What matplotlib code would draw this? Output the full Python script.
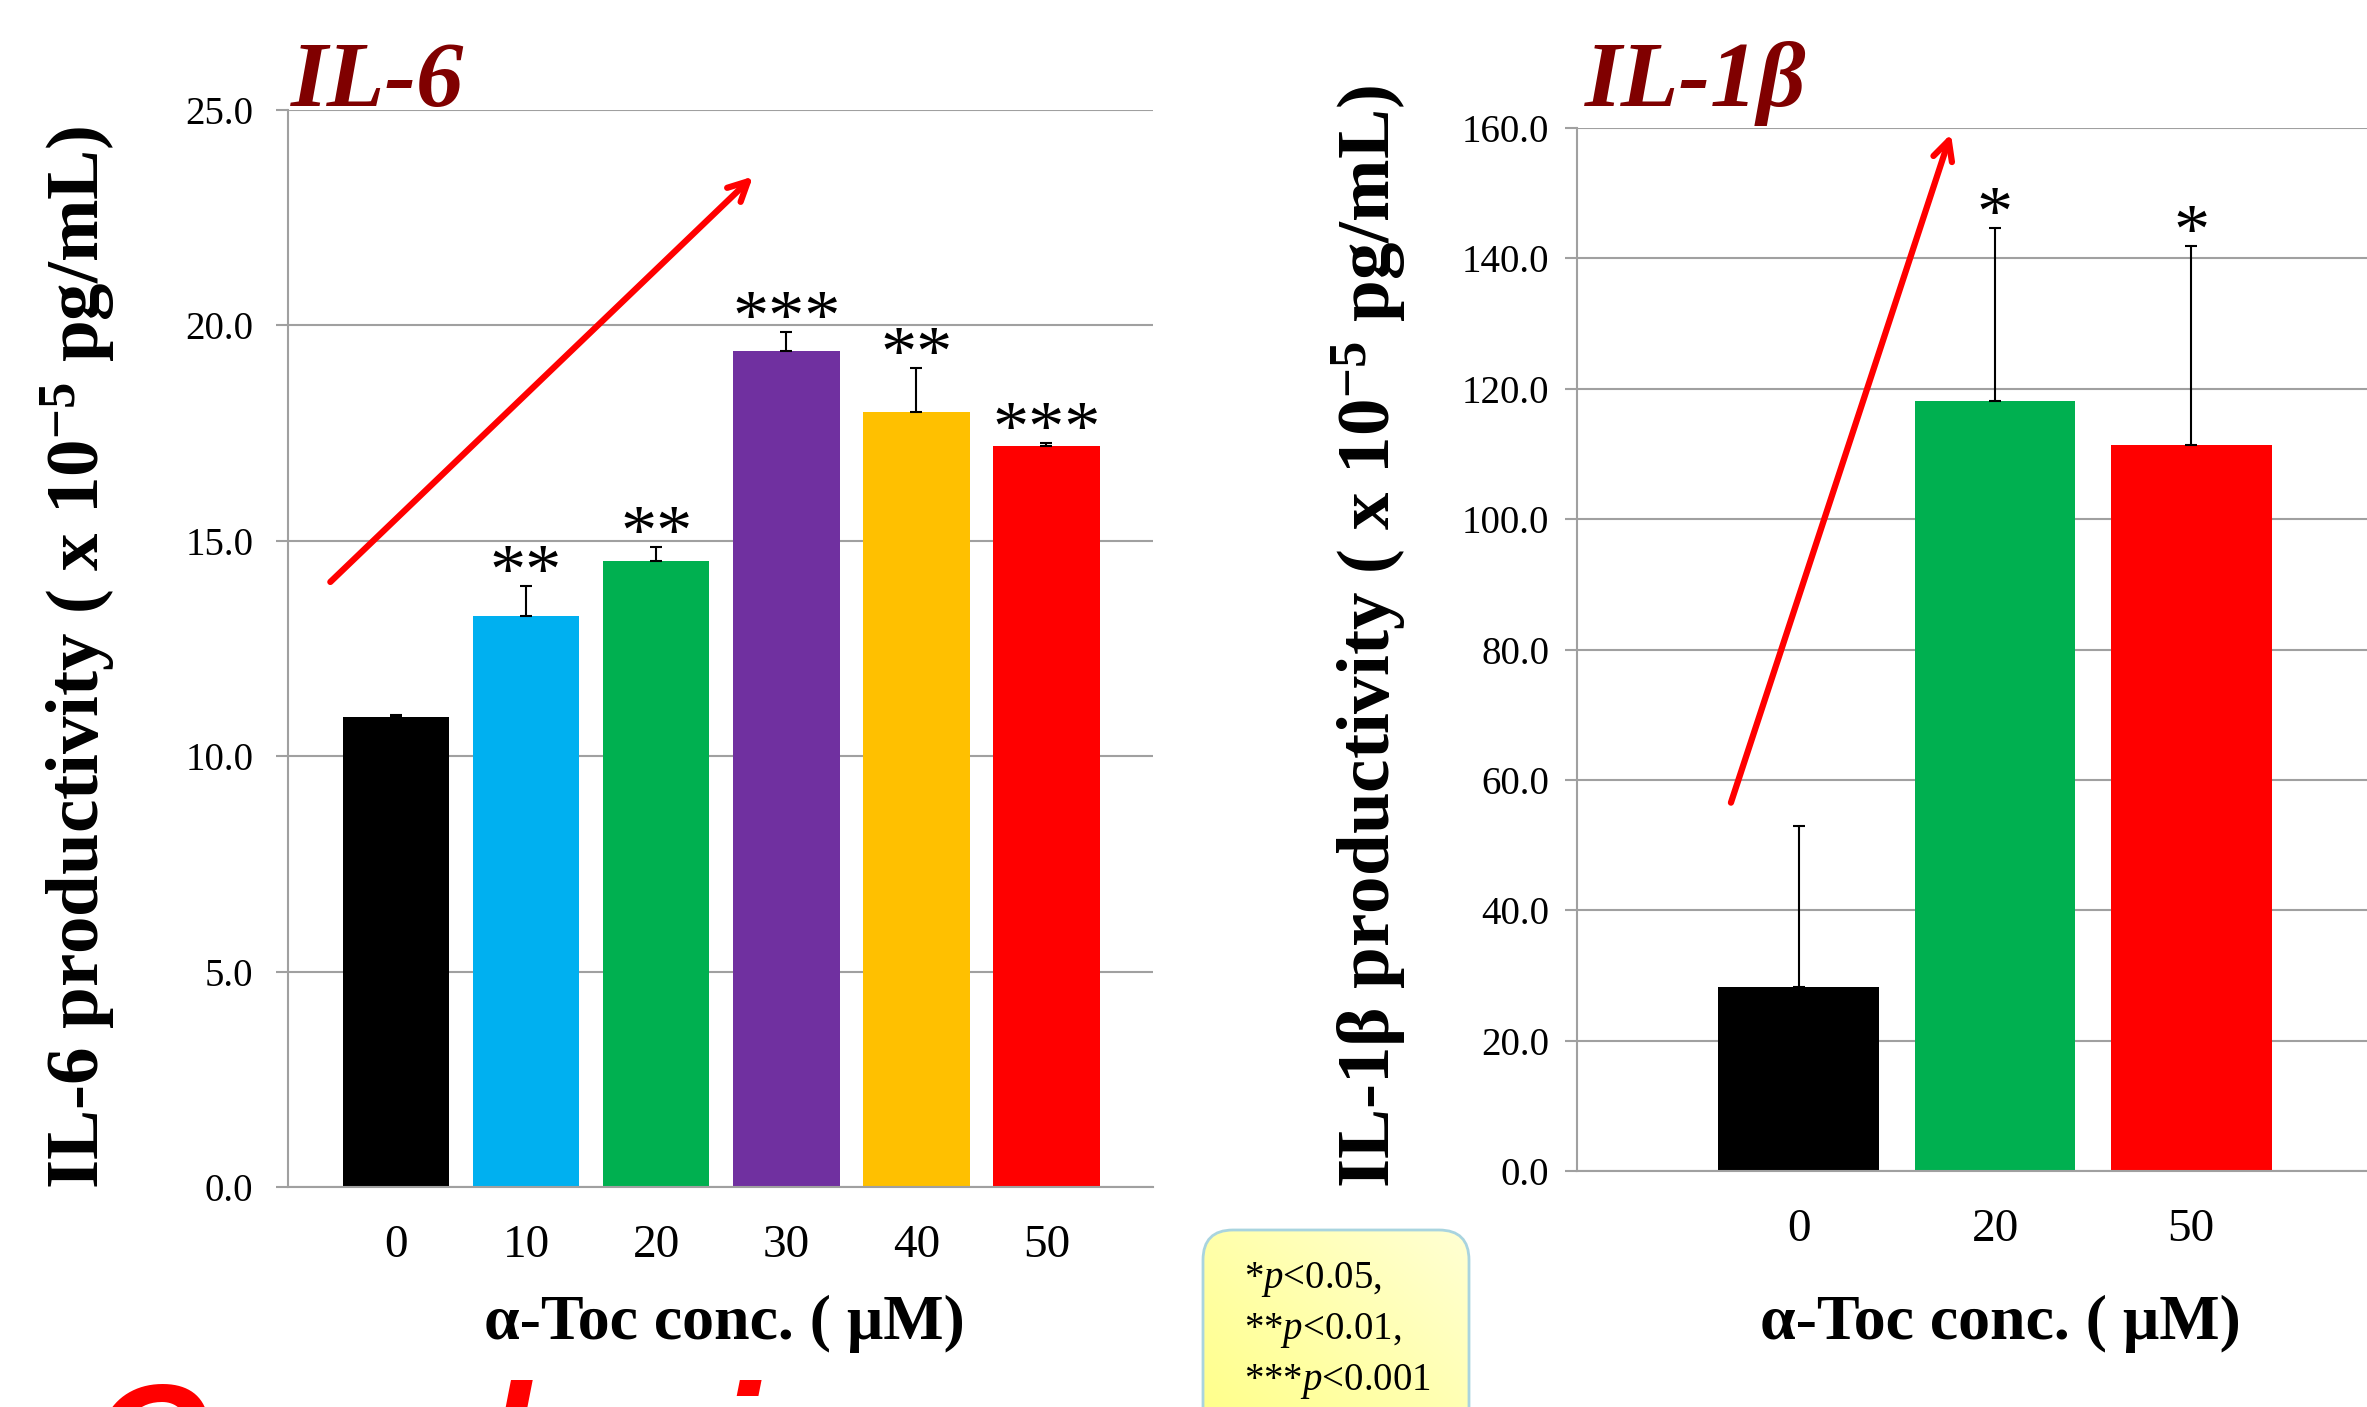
import matplotlib.pyplot as plt
import numpy as np
from matplotlib.patches import FancyBboxPatch

# IL-6 panel
il6_conc = ['0', '10', '20', '30', '40', '50']
il6_mean = [10.9, 13.25, 14.53, 19.4, 18.0, 17.2]
il6_err = [0.05, 0.7, 0.33, 0.45, 1.0, 0.08]
il6_marks = ['', '**', '**', '***', '**', '***']
il6_colors = ['#000000', '#00B0F0', '#00B050', '#7030A0', '#FFC000', '#FF0000']
il6_ticks = [0, 5, 10, 15, 20, 25]

# IL-1beta panel
il1b_conc = ['0', '20', '50']
il1b_mean = [28.2, 118.1, 111.4]
il1b_err = [24.8, 26.6, 30.5]
il1b_marks = ['', '*', '*']
il1b_colors = ['#000000', '#00B050', '#FF0000']
il1b_ticks = [0, 20, 40, 60, 80, 100, 120, 140, 160]

plt.rcParams['font.family'] = 'Liberation Serif'
plt.rcParams['mathtext.fontset'] = 'custom'
plt.rcParams['mathtext.rm'] = 'Liberation Serif'
plt.rcParams['mathtext.it'] = 'Liberation Serif:italic'
plt.rcParams['mathtext.bf'] = 'Liberation Serif:bold'

W, H = 2367, 1407
fig = plt.figure(figsize=(W / 100, H / 100), dpi=100)
grid_color = '#A0A0A0'


def panel(rect, conc, mean, err, marks, colors, ticks, ylabel, lab_y, tick_pad, star_size):
    ax = fig.add_axes(rect)
    x = np.arange(len(conc))
    ax.bar(x, mean, width=0.82, color=colors, zorder=2)
    ax.errorbar(x, mean, yerr=[np.zeros(len(err)), err], fmt='none', ecolor='black',
                elinewidth=1.5, capsize=4, capthick=1.5, zorder=3)
    for i in range(len(conc)):
        if marks[i]:
            ax.annotate(marks[i], xy=(i, mean[i] + err[i]), xytext=(0, -5), textcoords='offset points',
                        ha='center', va='baseline', fontsize=star_size, zorder=4)
    ax.set_ylim(ticks[0], ticks[-1])
    ax.set_yticks(ticks, ['%.1f' % t for t in ticks])
    ax.set_xticks(x, conc)
    ax.yaxis.grid(True, color=grid_color, lw=1.5, zorder=0)
    ax.set_axisbelow(True)
    for s in ['top', 'right']:
        ax.spines[s].set_visible(False)
    ax.spines['left'].set_color(grid_color)
    ax.spines['bottom'].set_color(grid_color)
    ax.spines['left'].set_linewidth(1.5)
    ax.spines['bottom'].set_linewidth(1.5)
    ax.tick_params(axis='y', direction='out', length=9, width=1.5, color=grid_color,
                   labelsize=28, pad=tick_pad)
    ax.tick_params(axis='x', length=0, labelsize=34, pad=27)
    ax.set_ylabel(ylabel, fontsize=54, fontweight='bold')
    ax.yaxis.set_label_coords(lab_y[0], lab_y[1])
    ax.yaxis.label.set_va('center')
    return ax


ax1 = panel([288 / W, 1 - 1187 / H, 865 / W, 1077 / H], il6_conc, il6_mean, il6_err, il6_marks,
            il6_colors, il6_ticks, r'IL-6 productivity ( x 10$^{\mathbf{-5}}$ pg/mL)',
            (-0.243, 0.492), 16, 52)
ax1.set_xlim(-0.83, 5.82)
ax1.set_xlabel('α-Toc conc. ( μM)', fontsize=46, fontweight='bold')
ax1.xaxis.set_label_coords(0.505, -0.127)
ax1.xaxis.label.set_va('center')
ax1.annotate('', xy=(2.76, 23.5), xytext=(-0.52, 14.0), annotation_clip=False,
             arrowprops=dict(arrowstyle='->', color='red', lw=4.5, mutation_scale=35))

ax2 = panel([1577 / W, 1 - 1171 / H, 836 / W, 1043 / H], il1b_conc, il1b_mean, il1b_err, il1b_marks,
            il1b_colors, il1b_ticks, r'IL-1β productivity ( x 10$^{\mathbf{-5}}$ pg/mL)',
            (-0.249, 0.512), 11, 52)
ax2.set_xlim(-1.13, 3.13)
ax2.set_xlabel('α-Toc conc. ( μM)', fontsize=46, fontweight='bold')
ax2.xaxis.set_label_coords(0.506, -0.147)
ax2.xaxis.label.set_va('center')
ax2.annotate('', xy=(0.78, 159.5), xytext=(-0.35, 56.1), annotation_clip=False,
             arrowprops=dict(arrowstyle='->', color='red', lw=4.5, mutation_scale=35))

# panel titles
fig.text(291 / W, 1 - 106 / H, 'IL-6', fontsize=68, fontweight='bold', style='italic',
         color='#800000', va='baseline')
fig.text(1585 / W, 1 - 106 / H, 'IL-1β', fontsize=68, fontweight='bold', style='italic',
         color='#800000', va='baseline')

# yellow significance box with gradient fill
bx0, bx1, by0 = 1196, 1476, 1223
box_w, box_h = bx1 - bx0, H - by0
axb = fig.add_axes([bx0 / W, 0, box_w / W, box_h / H])
axb.set_xlim(0, box_w)
axb.set_ylim(0, box_h)
axb.axis('off')
gx, gy = np.meshgrid(np.linspace(0, 1, 100), np.linspace(0, 1, 100))
grad = (gx + (1 - gy)) / 2
img = axb.imshow(grad, cmap=plt.matplotlib.colors.LinearSegmentedColormap.from_list(
    'yl', ['#FFFF80', '#FFFFD6']), extent=[0, box_w, -60, box_h], origin='upper', aspect='auto')
patch = FancyBboxPatch((7, -60), box_w - 14, box_h - 7 + 60, boxstyle='round,pad=0,rounding_size=30',
                       facecolor='none', edgecolor='#A9D4DF', lw=2)
axb.add_patch(patch)
img.set_clip_path(patch)

sig_lines = [r'*$\mathit{p}$<0.05,', r'**$\mathit{p}$<0.01,', r'***$\mathit{p}$<0.001']
for k, line in enumerate(sig_lines):
    fig.text(1244 / W, 1 - (1288 + 51 * k) / H, line, fontsize=28, va='baseline')

# large heading cut off at bottom
fig.text(90 / W, 1 - 1494 / H, 'Conclusion', fontsize=114, fontweight='bold', style='italic',
         color='red', family='Liberation Sans', va='baseline')

fig.savefig('out.png', dpi=100)
